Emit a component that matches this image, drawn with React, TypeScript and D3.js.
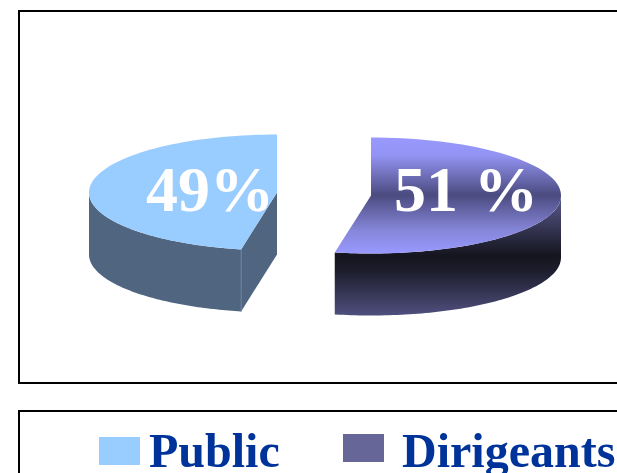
import React from "react";
import * as d3 from "d3";

const categories = ["Public", "Dirigeants"];
const values = [49, 51];
const labels = ["49%", "51 %"];

const FONT = "'Liberation Serif', 'Times New Roman', serif";
const DEPTH = 62;
const RY = 58;

// Drawn sweep of each value, as the picture's foreshortening shows it
const sweep = d3.scaleLinear().domain([0, 49, 100]).range([0, (169 * Math.PI) / 180, 2 * Math.PI]);

const px = (cx: number, rx: number, a: number) => cx + rx * Math.sin(a);
const py = (cy: number, a: number) => cy - RY * Math.cos(a);

function arcPoints(cx: number, cy: number, rx: number, a0: number, a1: number): [number, number][] {
  const n = 80;
  return d3.range(n + 1).map((i) => {
    const a = a0 + ((a1 - a0) * i) / n;
    return [px(cx, rx, a), py(cy, a)] as [number, number];
  });
}

const line = d3.line();

function Wedge({ cx, cy, rx, a0, a1, top, side, cutSide }: any) {
  const topPts = [[cx, cy] as [number, number], ...arcPoints(cx, cy, rx, a0, a1)];
  // visible wall: the part of the rim lying on the front half of the ellipse
  const f0 = a0 < 0 ? a0 : Math.PI / 2;
  const f1 = a0 < 0 ? -Math.PI / 2 : a1;
  const rim = arcPoints(cx, cy, rx, f0, f1);
  const wall = [...rim, ...rim.slice().reverse().map(([x, y]) => [x, y + DEPTH] as [number, number])];
  const ax = px(cx, rx, a0 < 0 ? a0 : a1);
  const ay = py(cy, a0 < 0 ? a0 : a1);
  const cut: [number, number][] = [[cx, cy], [ax, ay], [ax, ay + DEPTH], [cx, cy + DEPTH]];
  return (
    <g>
      <path d={line(wall) || ""} fill={side} />
      {cutSide && <path d={line(cut) || ""} fill={cutSide} />}
      {cutSide && <line x1={ax} x2={ax} y1={ay} y2={ay + DEPTH} stroke="#6d82a0" strokeWidth={1} />}
      <path d={line(topPts) + "Z"} fill={top} />
    </g>
  );
}

export default function App() {
  const rx = [188, 190];
  const cx = [277, 371];
  const cy = [192.5, 195.5];
  const pub = sweep(values[0]);
  const dir = 2 * Math.PI - pub;
  return (
    <svg width={617} height={473} style={{ position: "fixed", left: 0, top: 0 }}>
      <defs>
        <linearGradient id="topG" gradientUnits="userSpaceOnUse" x1="0" x2="0" y1={137} y2={253}>
          <stop offset="0" stopColor="#9999ff" />
          <stop offset="0.16" stopColor="#9393f3" />
          <stop offset="0.5" stopColor="#4b4b80" />
          <stop offset="0.8" stopColor="#8585d8" />
          <stop offset="1" stopColor="#9999ff" />
        </linearGradient>
        <linearGradient id="sideG" gradientUnits="userSpaceOnUse" x1="0" x2="0" y1={195} y2={316}>
          <stop offset="0" stopColor="#5c5c93" />
          <stop offset="0.5" stopColor="#15151f" />
          <stop offset="0.62" stopColor="#1c1c2c" />
          <stop offset="1" stopColor="#50507f" />
        </linearGradient>
      </defs>
      <rect x={19} y={11} width={640} height={372} fill="#fff" stroke="#000" strokeWidth={2} />
      <rect x={19} y={411} width={640} height={100} fill="#fff" stroke="#000" strokeWidth={2} />

      <Wedge cx={cx[0]} cy={cy[0]} rx={rx[0]} a0={-pub} a1={0} top="#99ccff" side="#4f6580" cutSide="#4f6580" />
      <Wedge cx={cx[1]} cy={cy[1]} rx={rx[1]} a0={0} a1={dir} top="url(#topG)" side="url(#sideG)" />

      <text x={146} y={211} fontFamily={FONT} fontWeight="bold" fontSize={64} fill="#fff">{labels[0]}</text>
      <text x={394} y={211} fontFamily={FONT} fontWeight="bold" fontSize={64} fill="#fff">{labels[1]}</text>

      <rect x={99} y={437} width={41} height={28} fill="#99ccff" />
      <text x={149} y={467} fontFamily={FONT} fontWeight="bold" fontSize={48} fill="#003399">{categories[0]}</text>
      <rect x={343} y={434} width={41} height={28} fill="#666699" />
      <text x={402} y={467} fontFamily={FONT} fontWeight="bold" fontSize={48} fill="#003399">{categories[1]}</text>
    </svg>
  );
}
